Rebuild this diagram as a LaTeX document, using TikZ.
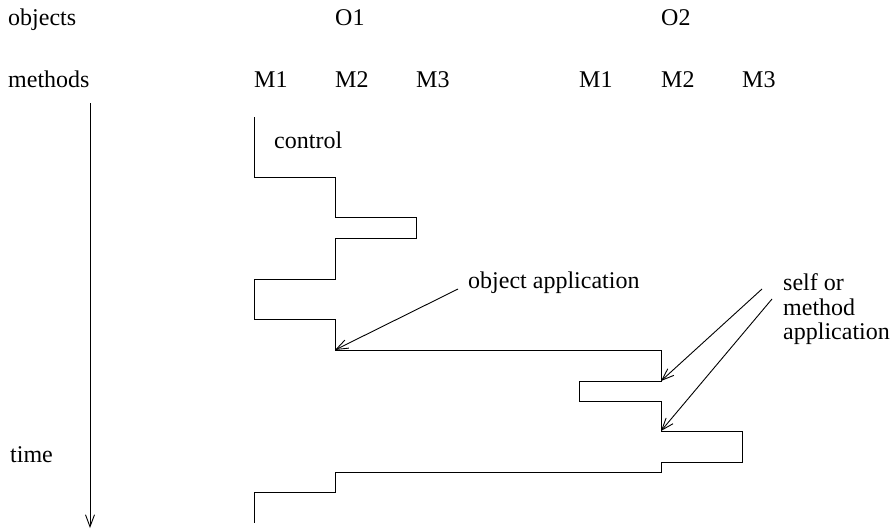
\documentclass[tikz,border=0pt]{standalone}
\usepackage{fontspec}
\setmainfont{Liberation Serif}
\usetikzlibrary{arrows.meta}
\begin{document}
\begin{tikzpicture}[x=1pt,y=-1pt,
  lbl/.style={anchor=base west,inner sep=0pt,font=\fontsize{24}{24}\selectfont},
  flow/.style={line width=0.9pt,line join=miter},
  ptr/.style={line width=0.9pt,-{Straight Barb[length=12pt,width=9pt,line width=0.9pt]}}]
\useasboundingbox (0,0) rectangle (895,530);
% labels
\node[lbl] (objects) at (8,25) {objects};
\node[lbl] (methods) at (8,87) {methods};
\node[lbl] (o1) at (335,25) {O1};
\node[lbl] (o2) at (661,25) {O2};
\node[lbl] (m11) at (254,87) {M1};
\node[lbl] (m12) at (335,87) {M2};
\node[lbl] (m13) at (416,87) {M3};
\node[lbl] (m21) at (579,87) {M1};
\node[lbl] (m22) at (661,87) {M2};
\node[lbl] (m23) at (742,87) {M3};
\node[lbl] (control) at (274,148) {control};
\node[lbl] (objapp) at (468,288) {object application};
\node[lbl] (self1) at (783,290) {self or};
\node[lbl] (self2) at (783,315) {method};
\node[lbl] (self3) at (783,339) {application};
\node[lbl] (time) at (10,462) {time};
% time axis
\coordinate (t0) at (90,103);
\coordinate (t1) at (90,528);
\draw[ptr] (t0) -- (t1);
% control flow
\coordinate (s) at (254,117);
\coordinate (a1) at (335,350);
\coordinate (a2) at (661,381);
\coordinate (a3) at (661,431);
\draw[flow] (s) -- (254,177) -- (335,177) -- (335,217) -- (416,217) -- (416,238)
  -- (335,238) -- (335,279) -- (254,279) -- (254,319) -- (335,319) -- (a1)
  -- (661,350) -- (a2) -- (579,381) -- (579,401) -- (661,401) -- (a3)
  -- (742,431) -- (742,462) -- (661,462) -- (661,472) -- (335,472) -- (335,492)
  -- (254,492) -- (254,523);
% annotation arrows
\coordinate (p1) at (458,289);
\coordinate (p2) at (762,289);
\coordinate (p3) at (772,299);
\draw[ptr] (p1) -- (a1);
\draw[ptr] (p2) -- (a2);
\draw[ptr] (p3) -- (a3);
\end{tikzpicture}
\end{document}
